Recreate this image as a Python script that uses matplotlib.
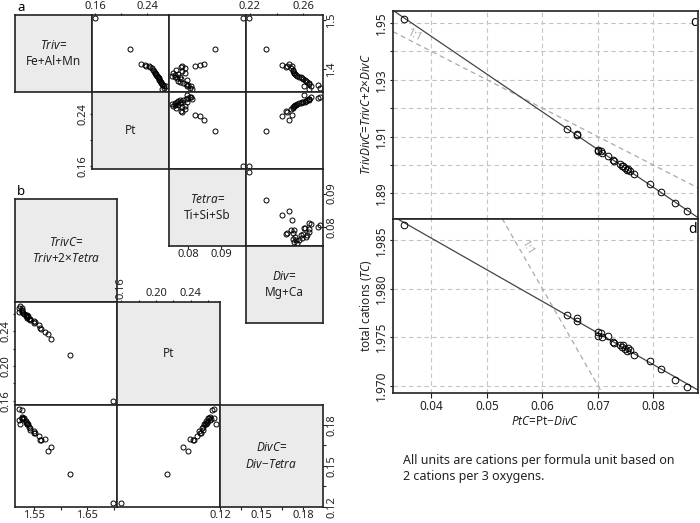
"""
Cation site-assignment figure: pairs plots (a, b) and charge-balance checks (c, d).
"""

import numpy as np
import matplotlib
matplotlib.use('Agg')
import matplotlib.pyplot as plt

plt.rcParams['font.family'] = ['Noto Sans', 'DejaVu Sans']
plt.rcParams['mathtext.fontset'] = 'custom'
plt.rcParams['mathtext.rm'] = 'Noto Sans'
plt.rcParams['mathtext.it'] = 'Noto Sans:italic'

W, H = 700, 523

# Panel a/b: cations per formula unit, one entry per analysis
triv = [1.505, 1.442, 1.412, 1.409, 1.4066, 1.4066, 1.4054, 1.402, 1.3986, 1.396,
        1.3934, 1.392, 1.390, 1.3886, 1.387, 1.3854, 1.384, 1.382, 1.380, 1.3786,
        1.377, 1.3754, 1.372, 1.370, 1.3686, 1.3666, 1.3654, 1.362, 1.360]
pt = [0.1595, 0.2133, 0.2310, 0.2370, 0.2390, 0.2430, 0.2445, 0.2475, 0.2500, 0.2512,
      0.2525, 0.2530, 0.2540, 0.2545, 0.2555, 0.2570, 0.2575, 0.2580, 0.2590, 0.2593,
      0.2600, 0.2610, 0.2620, 0.2635, 0.2645, 0.2670, 0.2696, 0.2670, 0.2626]
tetra = [0.0965, 0.0882, 0.0848, 0.0835, 0.0821, 0.0783, 0.0778, 0.0791, 0.0765, 0.0783,
         0.0790, 0.0755, 0.0770, 0.0760, 0.0752, 0.0762, 0.0775, 0.0767, 0.0780, 0.0797,
         0.0771, 0.0777, 0.0786, 0.0794, 0.0800, 0.0808, 0.0798, 0.0807, 0.0812]
div = [0.2192, 0.2320, 0.2490, 0.2442, 0.2517, 0.2475, 0.2467, 0.2510, 0.2520, 0.2525,
       0.2530, 0.2530, 0.2535, 0.2542, 0.2555, 0.2568, 0.2580, 0.2593, 0.2600, 0.2613,
       0.2620, 0.2630, 0.2643, 0.2640, 0.2706, 0.2655, 0.2605, 0.2725, 0.2645]

# Panel c/d
ptc = [0.0351, 0.0645, 0.0662, 0.0662, 0.0701, 0.0706, 0.0700, 0.0707, 0.0719, 0.0728,
       0.0729, 0.0739, 0.0743, 0.0746, 0.0749, 0.0754, 0.0757, 0.0752, 0.0765, 0.0793,
       0.0813, 0.0839, 0.0860]
tc = [1.9866, 1.9773, 1.9770, 1.9767, 1.9755, 1.9754, 1.9751, 1.9750, 1.9751, 1.9745,
      1.9744, 1.9742, 1.9740, 1.9742, 1.9738, 1.9739, 1.9737, 1.9736, 1.9732, 1.9725,
      1.9717, 1.9706, 1.9699]
one_to_one_c = 1.980   # intercept of slope -1 reference line
one_to_one_d = 2.040

triv, pt, tetra, div = map(np.array, (triv, pt, tetra, div))
ptc, tc = np.array(ptc), np.array(tc)
trivc = triv + 2 * tetra
divc = div - tetra
trivdivc = tc - ptc   # TrivC + 2*DivC == TC - PtC

FRAME = '#222222'
FILL = '#ebebeb'


def pad_range(v, f=0.04):
    lo, hi = np.min(v), np.max(v)
    r = hi - lo
    return lo - f * r, hi + f * r


def add_px_axes(fig, x0, y0, x1, y1, lw=1.2):
    ax = fig.add_axes([x0 / W, 1 - y1 / H, (x1 - x0) / W, (y1 - y0) / H])
    ax.set_xticks([])
    ax.set_yticks([])
    for sp in ax.spines.values():
        sp.set_linewidth(lw)
        sp.set_color(FRAME)
    ax.tick_params(direction='out', length=1.8, width=0.8, labelsize=8, pad=0.6,
                   colors=FRAME)
    return ax


def label_cell(ax, text):
    ax.set_facecolor(FILL)
    ax.text(0.5, 0.5, text, transform=ax.transAxes, ha='center', va='center',
            fontsize=8.5, linespacing=1.35, color=FRAME)


def scatter_cell(ax, x, y, ms=3.6):
    ax.plot(x, y, 'o', mfc='none', mec='black', ms=ms, mew=0.7, clip_on=False)


fig = plt.figure(figsize=(W / 100, H / 100), dpi=100)

# ---------------- panel a ----------------
edges_a = [15, 92, 169, 246, 323]
vars_a = [triv, pt, tetra, div]
lims_a = [pad_range(v) for v in vars_a]
names_a = [r'$\mathit{Triv}$=' + '\nFe+Al+Mn', 'Pt',
           r'$\mathit{Tetra}$=' + '\nTi+Si+Sb', r'$\mathit{Div}$=' + '\nMg+Ca']
axa = {}
for i in range(4):
    for j in range(i, 4):
        ax = add_px_axes(fig, edges_a[j], edges_a[i], edges_a[j + 1], edges_a[i + 1])
        ax.set_xlim(lims_a[j])
        ax.set_ylim(lims_a[i])
        if i == j:
            label_cell(ax, names_a[i])
        else:
            scatter_cell(ax, vars_a[j], vars_a[i])
        axa[i, j] = ax

ax = axa[0, 1]
ax.xaxis.tick_top()
ax.set_xticks([0.16, 0.20, 0.24], ['0.16', '', '0.24'])
ax = axa[0, 3]
ax.xaxis.tick_top()
ax.set_xticks([0.22, 0.24, 0.26], ['0.22', '', '0.26'])
ax.yaxis.tick_right()
ax.set_yticks([1.4, 1.5], ['1.4', '1.5'], rotation=90, va='center')
ax = axa[1, 1]
ax.set_yticks([0.16, 0.20, 0.24], ['0.16', '', '0.24'], rotation=90, va='center')
ax = axa[2, 2]
ax.set_xticks([0.08, 0.09], ['0.08', '0.09'])
ax = axa[2, 3]
ax.yaxis.tick_right()
ax.set_yticks([0.08, 0.09], ['0.08', '0.09'], rotation=90, va='center')

# ---------------- panel b ----------------
edges_bx = [15, 117, 220, 323]
edges_by = [199, 302, 405, 507]
vars_b = [trivc, pt, divc]
lims_b = [pad_range(v) for v in vars_b]
names_b = [r'$\mathit{TrivC}$=' + '\n' + r'$\mathit{Triv}$+2×$\mathit{Tetra}$', 'Pt',
           r'$\mathit{DivC}$=' + '\n' + r'$\mathit{Div}$−$\mathit{Tetra}$']
axb = {}
for i in range(3):
    for j in range(i + 1):
        ax = add_px_axes(fig, edges_bx[j], edges_by[i], edges_bx[j + 1], edges_by[i + 1])
        ax.set_xlim(lims_b[j])
        ax.set_ylim(lims_b[i])
        if i == j:
            label_cell(ax, names_b[i])
        else:
            scatter_cell(ax, vars_b[j], vars_b[i])
        axb[i, j] = ax

pt_ticks = [0.16, 0.18, 0.20, 0.22, 0.24, 0.26]
pt_labels = ['0.16', '', '0.20', '', '0.24', '']
ax = axb[1, 1]
ax.xaxis.tick_top()
ax.set_xticks(pt_ticks, pt_labels)
ax.get_xticklabels()[0].set_rotation(90)
ax = axb[1, 0]
ax.set_yticks(pt_ticks, pt_labels, rotation=90, va='center')
ax = axb[2, 0]
ax.set_xticks([1.55, 1.60, 1.65, 1.70], ['1.55', '', '1.65', ''])
divc_ticks = [0.12, 0.135, 0.15, 0.165, 0.18]
divc_labels = ['0.12', '', '0.15', '', '0.18']
ax = axb[2, 2]
ax.set_xticks(divc_ticks, divc_labels)
ax.yaxis.tick_right()
ax.set_yticks(divc_ticks, divc_labels, rotation=90, va='center')

fig.text(17 / W, 1 - 11 / H, 'a', fontsize=9.5, fontweight='bold', va='baseline')
fig.text(17 / W, 1 - 195 / H, 'b', fontsize=9.5, fontweight='bold', va='baseline')

# ---------------- panels c, d ----------------
ax_c = add_px_axes(fig, 393, 11, 698, 218.5)
ax_d = add_px_axes(fig, 393, 218.5, 698, 393)
xlim = pad_range(ptc)
grid_kw = dict(color='#c4c4c4', ls=(0, (4, 3)), lw=0.8)

for ax, y, b11, ylim in ((ax_c, trivdivc, one_to_one_c, pad_range(trivdivc)),
                         (ax_d, tc, one_to_one_d, pad_range(tc))):
    ax.set_xlim(xlim)
    ax.set_ylim(ylim)
    ax.set_axisbelow(True)
    ax.tick_params(labelsize=8.5, length=2.5, pad=1.0)
    slope, icpt = np.polyfit(ptc, y, 1)
    ax.axline((0, b11), slope=-1, color='#aaaaaa', ls=(0, (4, 3)), lw=0.9, zorder=1)
    ax.axline((0, icpt), slope=slope, color='#444444', lw=0.9, zorder=2)
    scatter_cell(ax, ptc, y, ms=4.8)
    ax.set_xticks([0.04, 0.05, 0.06, 0.07, 0.08])

ax_c.set_yticks([1.89, 1.90, 1.91, 1.92, 1.93, 1.94, 1.95],
                ['1.89', '', '1.91', '', '1.93', '', '1.95'], rotation=90, va='center')
ax_c.tick_params(axis='x', bottom=False, labelbottom=False)
ax_c.grid(True, **grid_kw)
ax_d.set_yticks([1.970, 1.975, 1.980, 1.985],
                ['1.970', '1.975', '1.980', '1.985'], rotation=90, va='center')
ax_d.set_xticks([0.04, 0.05, 0.06, 0.07, 0.08], ['0.04', '0.05', '0.06', '0.07', '0.08'])
ax_d.tick_params(axis='x', length=3.5, pad=1.5)
ax_d.grid(True, **grid_kw)

ax_c.text(0.0368, 1.9456, '1:1', fontsize=8, color='#aaaaaa', rotation=-27,
          ha='center', va='center')
ax_d.text(0.0572, 1.9843, '1:1', fontsize=8, color='#aaaaaa', rotation=-60,
          ha='center', va='center')

ax_c.text(0.995, 0.93, 'c', transform=ax_c.transAxes, ha='right', va='baseline',
          fontsize=10, fontweight='bold')
ax_d.text(0.995, 0.915, 'd', transform=ax_d.transAxes, ha='right', va='baseline',
          fontsize=10, fontweight='bold')

fig.text(366 / W, 1 - 114.5 / H,
         r'$\mathit{TrivDivC}$=$\mathit{TrivC}$+2×$\mathit{DivC}$',
         rotation=90, ha='center', va='center', fontsize=8.5, color=FRAME)
fig.text(366 / W, 1 - 305.5 / H, r'total cations ($\mathit{TC}$)',
         rotation=90, ha='center', va='center', fontsize=8.5, color=FRAME)
fig.text(545.5 / W, 1 - 421.5 / H, r'$\mathit{PtC}$=Pt−$\mathit{DivC}$',
         ha='center', va='center', fontsize=8.5, color=FRAME)

fig.text(403 / W, 1 - 454 / H,
         'All units are cations per formula unit based on\n2 cations per 3 oxygens.',
         ha='left', va='top', fontsize=9, linespacing=1.3, color=FRAME)

fig.savefig('out.png', dpi=100)
